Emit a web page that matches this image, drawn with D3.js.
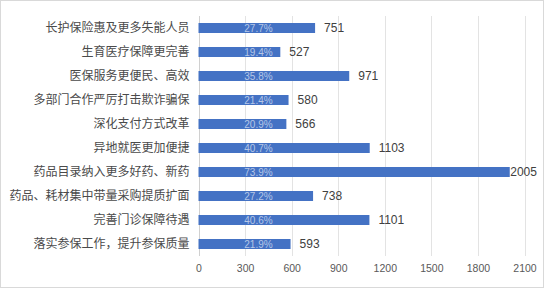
<!DOCTYPE html>
<html><head><meta charset="utf-8">
<script src="https://cdn.jsdelivr.net/npm/d3@7/dist/d3.min.js"></script>
<style>
html,body{margin:0;padding:0;background:#fff;}
</style></head>
<body>
<svg id="chart" width="544" height="288"></svg>
<script>
const categories = ["长护保险惠及更多失能人员","生育医疗保障更完善","医保服务更便民、高效","多部门合作严厉打击欺诈骗保","深化支付方式改革","异地就医更加便捷","药品目录纳入更多好药、新药","药品、耗材集中带量采购提质扩面","完善门诊保障待遇","落实参保工作，提升参保质量"];
const values = [751,527,971,580,566,1103,2005,738,1101,593];
const percents = ["27.7%","19.4%","35.8%","21.4%","20.9%","40.7%","73.9%","27.2%","40.6%","21.9%"];
const ticks = [0,300,600,900,1200,1500,1800,2100];

const svg = d3.select("#chart");
const W = 544, H = 288;
svg.append("rect").attr("x",0.5).attr("y",0.5).attr("width",W-1).attr("height",H-1)
  .attr("fill","#fff").attr("stroke","#d9d9d9");

const x = d3.scaleLinear().domain([0,2100]).range([198.5,524.5]);
const y = d3.scaleBand().domain(categories).range([16,256]).paddingInner(14/24).paddingOuter(7/24);

// gridlines
svg.append("g").selectAll("line").data(ticks).join("line")
  .attr("x1",d=>Math.round(x(d))+0.5).attr("x2",d=>Math.round(x(d))+0.5)
  .attr("y1",16).attr("y2",256)
  .attr("stroke",d=>d===0?"#d0d0d0":"#e3e3e3").attr("stroke-width",1);

// x axis labels
const xa = d3.axisBottom(x).tickValues(ticks).tickFormat(d3.format("d")).tickSize(0).tickPadding(0);
const gx = svg.append("g").attr("transform","translate(0,265)").call(xa);
gx.select(".domain").remove();
gx.selectAll("text").attr("font-family","'Liberation Sans', Arial, sans-serif")
  .attr("font-size","10.5px").attr("fill","#595959").attr("dy","0.71em");

// y axis labels
const ya = d3.axisLeft(y).tickSize(0).tickPadding(0);
const gy = svg.append("g").attr("transform","translate(189.5,0)").call(ya);
gy.select(".domain").remove();
gy.selectAll("text").attr("font-family","'Noto Sans CJK SC', sans-serif")
  .attr("font-size","12px").attr("fill","#4a4a4a").attr("dy","0.35em");

// bars
svg.append("g").selectAll("rect").data(values).join("rect")
  .attr("x",x(0)).attr("y",(d,i)=>y(categories[i]))
  .attr("width",d=>x(d)-x(0)).attr("height",y.bandwidth())
  .attr("fill","#4472C4");

// percent labels
svg.append("g").selectAll("text").data(percents).join("text")
  .attr("x",258.5).attr("y",(d,i)=>y(categories[i])+y.bandwidth()/2)
  .attr("dy","0.36em").attr("text-anchor","middle")
  .attr("font-family","'Liberation Sans', Arial, sans-serif").attr("font-size","10px")
  .attr("fill","#b4c6e7").text(d=>d);

// value labels
svg.append("g").selectAll("text").data(values).join("text")
  .attr("x",d=>{ const e = x(d); return (e+9+27 > 540) ? e+0.5 : e+9; })
  .attr("y",(d,i)=>y(categories[i])+y.bandwidth()/2)
  .attr("dy","0.36em")
  .attr("font-family","'Liberation Sans', Arial, sans-serif").attr("font-size","12px")
  .attr("fill","#404040").text(d=>d);
</script>
</body></html>
